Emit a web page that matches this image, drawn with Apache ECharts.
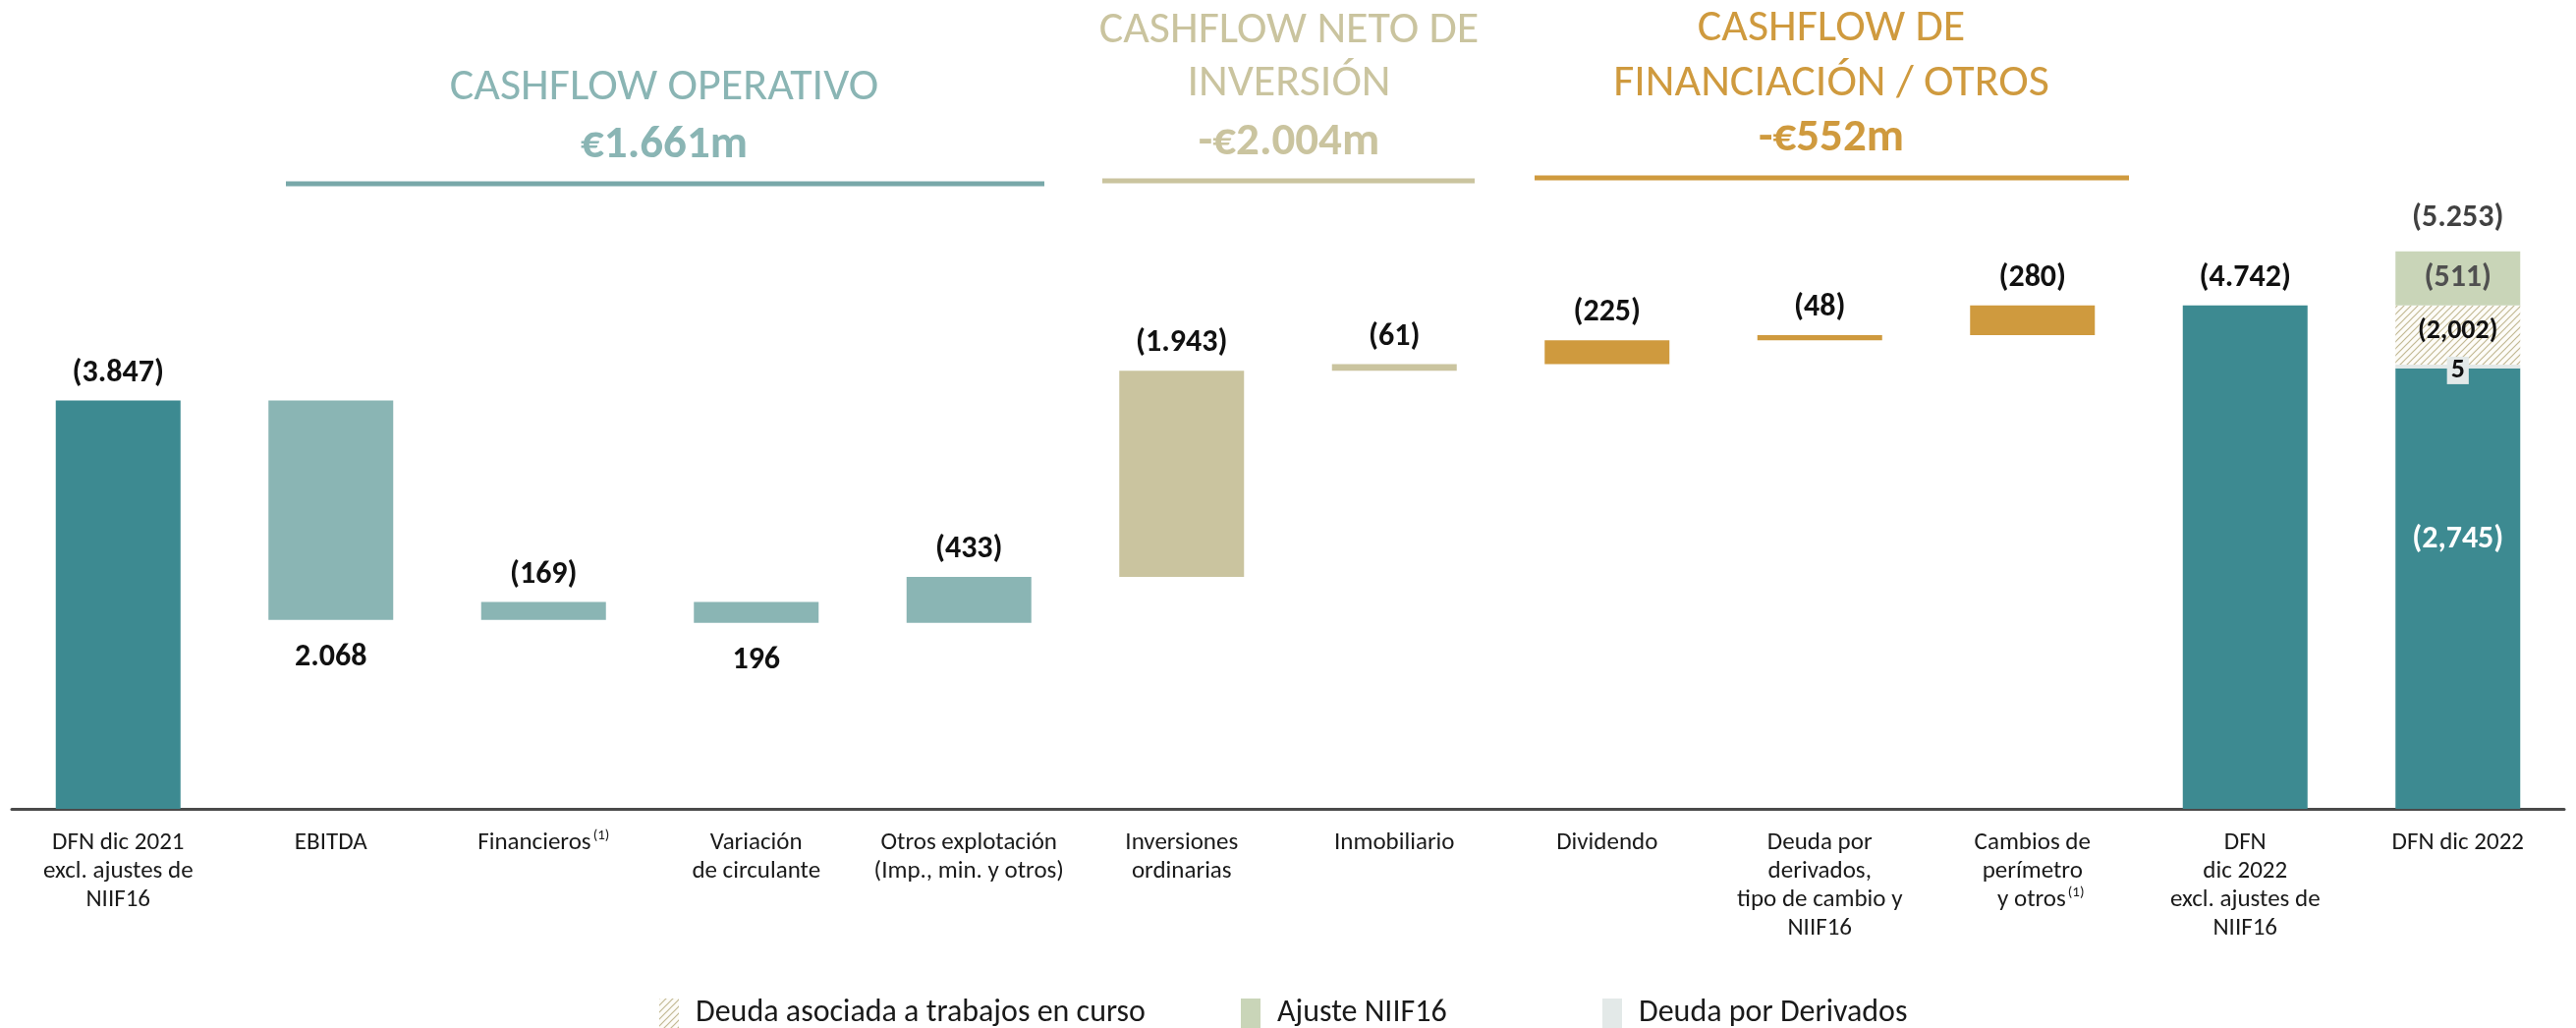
<!DOCTYPE html>
<html>
<head>
<meta charset="utf-8">
<script src="https://cdn.jsdelivr.net/npm/echarts@6/dist/echarts.min.js"></script>
<style>
  html, body { margin: 0; padding: 0; background: #fff; }
  #main { width: 2622px; height: 1046px; }
</style>
</head>
<body>
<div id="main"></div>
<script>
  // categorías del eje x
  var categories = [
    'DFN dic 2021\nexcl. ajustes de\nNIIF16',
    'EBITDA',
    'Financieros{sup|(1)}',
    'Variación\nde circulante',
    'Otros explotación\n(Imp., min. y otros)',
    'Inversiones\nordinarias',
    'Inmobiliario',
    'Dividendo',
    'Deuda por\nderivados,\ntipo de cambio y\nNIIF16',
    'Cambios de\nperímetro\n   y otros{sup|(1)}',
    'DFN\ndic 2022\nexcl. ajustes de\nNIIF16',
    'DFN dic 2022'
  ];

  // deuda inicial, variaciones (positivo = más deuda) y deuda final
  var startDebt = 3847;
  var changes = [-2068, 169, -196, 433, 1943, 61, 225, 48, 280];
  var endDebt = 4742;
  // grupo de cada columna: 0 total, 1 operativo, 2 inversión, 3 financiación
  var groups = [0, 1, 1, 1, 1, 2, 2, 3, 3, 3, 0, 0];

  // DFN dic 2022 apilado: DFN, derivados, trabajos en curso, NIIF16
  var dfnParts = [4150, 35, 557, 511];
  var dfnLabels = ['(2,745)', '5', '(2,002)', '(511)'];
  var dfnTotalLabel = '(5.253)';

  var FONT = "Carlito, 'Liberation Sans Narrow', 'Open Sans', sans-serif";
  var groupColors = ['#3d8a91', '#8ab5b4', '#cac49f', '#cf9a3e'];
  var last = categories.length - 1;

  function fmt(n) {
    return String(n).replace(/\B(?=(\d{3})+(?!\d))/g, '.');
  }

  // barras invisibles de base + barras de variación
  var base = [0];
  var delta = [];
  delta.push({ value: startDebt, label: { position: 'top', formatter: '(' + fmt(startDebt) + ')' } });
  var level = startDebt;
  changes.forEach(function (c) {
    base.push(c < 0 ? level + c : level);
    delta.push({
      value: Math.abs(c),
      label: c < 0
        ? { position: 'bottom', distance: 22, formatter: fmt(-c) }
        : { position: 'top', formatter: '(' + fmt(c) + ')' }
    });
    level += c;
  });
  base.push(0);
  delta.push({ value: endDebt, label: { position: 'top', formatter: '(' + fmt(endDebt) + ')' } });
  base.push('-');
  delta.push('-');
  delta.forEach(function (d, i) {
    if (d !== '-') d.itemStyle = { color: groupColors[groups[i]] };
  });

  function onlyLast(v) {
    var arr = categories.map(function () { return '-'; });
    arr[last] = v;
    return arr;
  }

  // trama rayada para la deuda asociada a trabajos en curso
  var hatch = document.createElement('canvas');
  hatch.width = 7; hatch.height = 7;
  var ctx = hatch.getContext('2d');
  ctx.fillStyle = '#fdfcf8';
  ctx.fillRect(0, 0, 7, 7);
  ctx.strokeStyle = '#c3b994';
  ctx.lineWidth = 1.2;
  ctx.beginPath();
  ctx.moveTo(-1, 8); ctx.lineTo(8, -1);
  ctx.moveTo(-1, 1); ctx.lineTo(1, -1);
  ctx.moveTo(6, 8); ctx.lineTo(8, 6);
  ctx.stroke();

  var labelStyle = { show: true, color: '#111', fontFamily: FONT, fontWeight: 'bold', fontSize: 32, distance: 12 };

  // cabeceras
  var headers = [
    { x: 676, lines: [[89, 'CASHFLOW OPERATIVO']], amount: [148, '€1.661m'], line: [291, 1063, 187], color: '#8ab5b4', lineColor: '#78a8a9' },
    { x: 1312, lines: [[31, 'CASHFLOW NETO DE'], [85, 'INVERSIÓN']], amount: [145, '-€2.004m'], line: [1122, 1501, 184], color: '#cac49f', lineColor: '#cac49f' },
    { x: 1864, lines: [[29, 'CASHFLOW DE'], [85, 'FINANCIACIÓN / OTROS']], amount: [141, '-€552m'], line: [1562, 2167, 181], color: '#cf9a3e', lineColor: '#cf9a3e' }
  ];
  var graphic = [];
  headers.forEach(function (h) {
    h.lines.forEach(function (l) {
      graphic.push({ type: 'text', style: { x: h.x, y: l[0], text: l[1], fill: h.color, font: '46px ' + FONT, align: 'center', verticalAlign: 'middle' } });
    });
    graphic.push({ type: 'text', style: { x: h.x, y: h.amount[0], text: h.amount[1], fill: h.color, font: 'bold 47px ' + FONT, align: 'center', verticalAlign: 'middle' } });
    graphic.push({ type: 'line', shape: { x1: h.line[0], y1: h.line[2], x2: h.line[1], y2: h.line[2] }, style: { stroke: h.lineColor, lineWidth: 5 } });
  });

  var legendBase = {
    top: 1010, itemWidth: 20, itemHeight: 30, selectedMode: false, icon: 'rect',
    textStyle: { fontFamily: FONT, fontSize: 32, color: '#1a1a1a', padding: [0, 0, 0, 12] }
  };

  var option = {
    backgroundColor: '#fff',
    animation: false,
    grid: { left: 12, right: 12, top: 229, bottom: 223, containLabel: false, outerBoundsMode: 'none' },
    legend: [
      Object.assign({ left: 666, data: ['Deuda asociada a trabajos en curso'] }, legendBase),
      Object.assign({ left: 1258, data: ['Ajuste NIIF16'] }, legendBase),
      Object.assign({ left: 1626, data: ['Deuda por Derivados'] }, legendBase)
    ],
    xAxis: {
      type: 'category',
      data: categories,
      axisLine: { lineStyle: { color: '#4a4a4a', width: 3 } },
      axisTick: { show: false },
      axisLabel: {
        interval: 0, margin: 20, color: '#1a1a1a', fontFamily: FONT, fontSize: 25, lineHeight: 29,
        rich: { sup: { fontFamily: FONT, fontSize: 15, verticalAlign: 'top', padding: [0, 0, 12, 2], color: '#1a1a1a' } }
      }
    },
    yAxis: { type: 'value', show: false, min: 0, max: 5500 },
    series: [
      { name: 'base', type: 'bar', stack: 'w', barWidth: 127, itemStyle: { color: 'transparent' }, data: base },
      { name: 'variación', type: 'bar', stack: 'w', barWidth: 127, label: labelStyle, data: delta },
      {
        name: 'DFN', type: 'bar', stack: 'w', barWidth: 127, itemStyle: { color: '#3d8a91' },
        label: { show: true, position: 'inside', offset: [0, -50], color: '#fff', fontFamily: FONT, fontWeight: 'bold', fontSize: 32, formatter: dfnLabels[0] },
        data: onlyLast(dfnParts[0])
      },
      {
        name: 'Deuda por Derivados', type: 'bar', stack: 'w', barWidth: 127, itemStyle: { color: '#e3e9e8' },
        label: { show: true, position: 'inside', offset: [0, 4], color: '#111', fontFamily: FONT, fontWeight: 'bold', fontSize: 28, backgroundColor: '#e3e9e8', padding: [0, 4, 0, 4], formatter: dfnLabels[1] },
        data: onlyLast(dfnParts[1])
      },
      {
        name: 'Deuda asociada a trabajos en curso', type: 'bar', stack: 'w', barWidth: 127,
        itemStyle: { color: { image: hatch, repeat: 'repeat' } },
        label: { show: true, position: 'inside', offset: [0, -4], color: '#111', fontFamily: FONT, fontWeight: 'bold', fontSize: 28, formatter: dfnLabels[2] },
        data: onlyLast(dfnParts[2])
      },
      {
        name: 'Ajuste NIIF16', type: 'bar', stack: 'w', barWidth: 127, itemStyle: { color: '#c9d5b8' },
        label: { show: true, position: 'inside', color: '#505050', fontFamily: FONT, fontWeight: 'bold', fontSize: 32, formatter: dfnLabels[3] },
        data: onlyLast(dfnParts[3])
      },
      {
        name: 'total', type: 'scatter', symbolSize: 0,
        label: { show: true, position: 'top', distance: 18, color: '#111', fontFamily: FONT, fontWeight: 'bold', fontSize: 32, formatter: dfnTotalLabel },
        data: onlyLast(dfnParts.reduce(function (a, b) { return a + b; }, 0))
      }
    ],
    graphic: graphic
  };

  var chart = echarts.init(document.getElementById('main'));
  chart.setOption(option);
</script>
</body>
</html>
